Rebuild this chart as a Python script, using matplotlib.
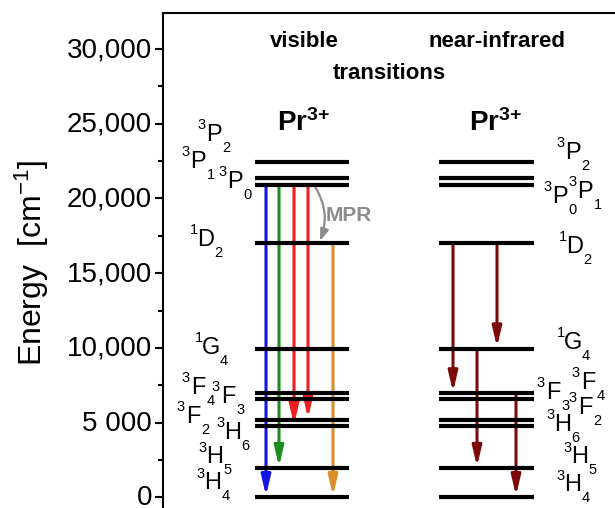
"""
Pr3+ energy level diagram: visible and near-infrared transitions.
"""
import matplotlib
matplotlib.use('Agg')
import matplotlib.pyplot as plt
import matplotlib.transforms as mtransforms
from matplotlib.patches import FancyArrowPatch

plt.rcParams['font.family'] = ['Liberation Sans', 'DejaVu Sans']
plt.rcParams['mathtext.fontset'] = 'custom'
plt.rcParams['mathtext.rm'] = 'Liberation Sans'
plt.rcParams['mathtext.bf'] = 'Liberation Sans:bold'
plt.rcParams['mathtext.default'] = 'regular'

# energy levels [cm-1]
level_names = ['3H4', '3H5', '3H6', '3F2', '3F3', '3F4', '1G4', '1D2', '3P0', '3P1', '3P2']
level_energy = [0, 1950, 4750, 5200, 6600, 6950, 9950, 17000, 20900, 21400, 22450]
E = dict(zip(level_names, level_energy))

# transitions (start, end, colour)
vis_trans = [('3P0', '3H4', '#1414e6'), ('3P0', '3H5', '#1e8c1e'),
             ('3P0', '3H6', '#f01e1e'), ('3P0', '3F2', '#f01e1e'),
             ('1D2', '3H4', '#dc8c28')]
nir_trans = [('1D2', '3F4'), ('1G4', '3H5'), ('1D2', '1G4'), ('3F4', '3H4')]
nir_color = '#7d0a0a'

yticks = [0, 5000, 10000, 15000, 20000, 25000, 30000]
yticklabels = ['0', '5 000', '10,000', '15,000', '20,000', '25,000', '30,000']

fig = plt.figure(figsize=(6.15, 5.08), dpi=100)
ax = fig.add_axes([163 / 615, -0.0083, 462 / 615, 0.9827])
ax.set_xlim(163, 625)
ax.set_ylim(-1000, 32411)

# level lines: x ranges in axis (pixel-like) units
left_x = (255, 349)
right_x = (439, 534)
for e in level_energy:
    ax.plot(left_x, [e, e], color='k', lw=3, solid_capstyle='butt')
    ax.plot(right_x, [e, e], color='k', lw=3, solid_capstyle='butt')


def arrow(x, a, b, color, lw=2.2):
    p = FancyArrowPatch((x, E[a]), (x, E[b]),
                        arrowstyle='-|>,head_length=12,head_width=2.8',
                        mutation_scale=1, color=color, lw=lw,
                        shrinkA=0, shrinkB=1.0)
    ax.add_patch(p)


for x, (a, b, c) in zip([266, 279, 294, 308, 333], vis_trans):
    arrow(x, a, b, c)
for x, (a, b) in zip([453, 477, 497, 516], nir_trans):
    arrow(x, a, b, nir_color)

# MPR curved arrow
mpr = FancyArrowPatch((314, E['3P0']), (320, E['1D2'] + 150),
                      connectionstyle='arc3,rad=-0.25',
                      arrowstyle='-|>,head_length=7,head_width=2.5',
                      mutation_scale=1, color='#8c8c8c', lw=1.6,
                      shrinkA=2, shrinkB=0)
ax.add_patch(mpr)
ax.text(349, 18840, 'MPR', color='#8c8c8c', fontsize=15, fontweight='bold',
        ha='center', va='center')

# headings
ax.text(304, 30480, 'visible', fontsize=16, fontweight='bold', ha='center', va='center')
ax.text(497, 30480, 'near-infrared', fontsize=16, fontweight='bold', ha='center', va='center')
ax.text(389, 28340, 'transitions', fontsize=16, fontweight='bold', ha='center', va='center')
ax.text(303, 25060, r'Pr$^{\mathbf{3{+}}}$', fontsize=20, fontweight='bold', ha='center', va='center')
ax.text(495, 25060, r'Pr$^{\mathbf{3{+}}}$', fontsize=20, fontweight='bold', ha='center', va='center')


def term(x, y, mult, letter, j):
    # letter centred at (x, y); multiplicity up-left, J down-right
    ax.text(x, y, letter, fontsize=17, ha='center', va='center')
    ax.annotate(mult, (x, y), xytext=(-9.0, 6.8), textcoords='offset points',
                fontsize=10.5, ha='center', va='center')
    ax.annotate(j, (x, y), xytext=(9.2, -9.5), textcoords='offset points',
                fontsize=10.5, ha='center', va='center')


# term labels: (x, energy of letter centre, multiplicity, letter, J)
left_labels = [(214, 24262, '3', 'P', '2'), (198, 22454, '3', 'P', '1'),
               (235, 21115, '3', 'P', '0'), (206, 17231, '1', 'D', '2'),
               (211, 9998, '1', 'G', '4'), (198, 7320, '3', 'F', '4'),
               (228, 6718, '3', 'F', '3'), (193, 5379, '3', 'F', '2'),
               (233, 4307, '3', 'H', '6'), (215, 2699, '3', 'H', '5'),
               (213, 958, '3', 'H', '4')]
right_labels = [(573, 23056, '3', 'P', '2'), (560, 20110, '3', 'P', '0'),
                (585, 20445, '3', 'P', '1'), (575, 16762, '1', 'D', '2'),
                (573, 10333, '1', 'G', '4'), (553, 6985, '3', 'F', '3'),
                (588, 7655, '3', 'F', '4'), (585, 5981, '3', 'F', '2'),
                (563, 4843, '3', 'H', '6'), (580, 2699, '3', 'H', '5'),
                (573, 824, '3', 'H', '4')]
for x, y, m, l, j in left_labels + right_labels:
    term(x, y, m, l, j)

# axes styling
ax.set_yticks(yticks)
ax.set_yticklabels(yticklabels, fontsize=20)
ax.set_yticks([2500, 7500, 12500, 17500, 22500, 27500], minor=True)
ax.tick_params(axis='y', which='major', direction='out', length=6, width=1.5, pad=2)
ax.tick_params(axis='y', which='minor', direction='out', length=3.5, width=1.5)
# tick labels sit a little above their ticks, as in the original
shift = mtransforms.ScaledTranslation(0, 2 / 100, fig.dpi_scale_trans)
for lab in ax.get_yticklabels():
    lab.set_transform(lab.get_transform() + shift)
ax.set_xticks([])
for side in ['left', 'top', 'right', 'bottom']:
    ax.spines[side].set_linewidth(1.5)
ax.set_ylabel(r'Energy  [cm$^{-1}$]', fontsize=23, labelpad=11)

fig.savefig('out.png', dpi=100)
